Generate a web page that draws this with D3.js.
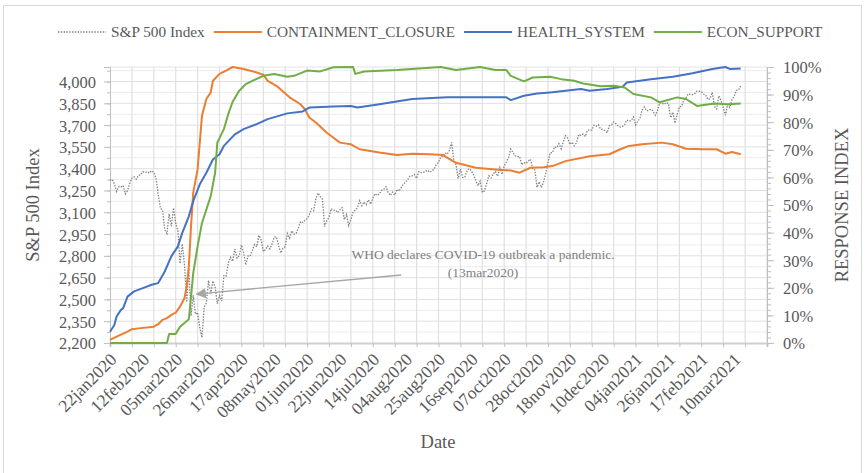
<!DOCTYPE html>
<html>
<head>
<meta charset="utf-8">
<script src="https://cdn.jsdelivr.net/npm/d3@7/dist/d3.min.js"></script>
<style>
  body { margin: 0; background: #fff; }
  text { font-family: 'Liberation Serif', 'Times New Roman', serif; }
</style>
</head>
<body>
<svg id="chart" width="867" height="473"></svg>
<script>
// x labels, one every 15 trading days (index 0 = 22jan2020)
const tickLabels = [
  '22jan2020', '12feb2020', '05mar2020', '26mar2020', '17apr2020',
  '08may2020', '01jun2020', '22jun2020', '14jul2020', '04aug2020',
  '25aug2020', '16sep2020', '07oct2020', '28oct2020', '18nov2020',
  '10dec2020', '04jan2021', '26jan2021', '17feb2021', '10mar2021',
];

// S&P 500 daily close, one value per trading day
const spClose = [
  // jan 2020
  3321, 3326, 3295, 3244, 3276, 3273, 3284, 3226,
  // feb
  3249, 3298, 3335, 3345, 3328, 3352, 3358, 3379, 3374, 3380, 3370, 3386,
  3373, 3338, 3226, 3128, 3116, 2979, 2954,
  // mar
  3090, 3003, 3130, 3024, 2972, 2747, 2882, 2741, 2481, 2711, 2386, 2529,
  2398, 2409, 2305, 2237, 2447, 2476, 2630, 2541, 2627, 2585,
  // apr
  2471, 2527, 2489, 2664, 2660, 2750, 2790, 2762, 2846, 2784, 2800, 2875,
  2823, 2737, 2799, 2798, 2837, 2878, 2863, 2940, 2912,
  // may
  2830, 2843, 2868, 2848, 2881, 2930, 2930, 2870, 2820, 2852, 2864, 2954,
  2922, 2972, 2949, 2955, 2992, 3036, 3030, 3044,
  // jun
  3056, 3081, 3123, 3112, 3194, 3232, 3207, 3190, 3002, 3041, 3067, 3125,
  3113, 3115, 3098, 3118, 3131, 3050, 3084, 3009, 3053, 3100,
  // jul
  3116, 3130, 3180, 3145, 3170, 3152, 3185, 3155, 3197, 3227, 3216, 3225,
  3251, 3257, 3276, 3236, 3216, 3239, 3218, 3258, 3246, 3271,
  // aug
  3295, 3306, 3327, 3349, 3351, 3360, 3333, 3380, 3373, 3373, 3382, 3389,
  3375, 3385, 3397, 3431, 3443, 3479, 3485, 3508, 3500,
  // sep
  3527, 3580, 3455, 3427, 3332, 3399, 3340, 3341, 3384, 3401, 3385, 3357,
  3320, 3282, 3315, 3237, 3247, 3298, 3351, 3336, 3363,
  // oct
  3381, 3348, 3408, 3361, 3419, 3447, 3477, 3535, 3512, 3489, 3483, 3484,
  3427, 3443, 3436, 3453, 3465, 3401, 3391, 3271, 3310, 3270,
  // nov
  3310, 3370, 3443, 3510, 3510, 3550, 3545, 3572, 3537, 3585, 3627, 3610,
  3567, 3582, 3558, 3578, 3635, 3630, 3638, 3622,
  // dec
  3662, 3669, 3666, 3699, 3692, 3702, 3673, 3668, 3663, 3647, 3695, 3702,
  3722, 3709, 3695, 3687, 3691, 3703, 3735, 3727, 3732, 3756,
  // jan 2021
  3701, 3727, 3748, 3804, 3825, 3799, 3801, 3810, 3795, 3768, 3799, 3852,
  3853, 3841, 3855, 3849, 3751, 3788, 3714,
  // feb
  3774, 3826, 3830, 3872, 3887, 3915, 3911, 3910, 3916, 3934, 3933, 3931,
  3914, 3907, 3877, 3881, 3925, 3829, 3811,
  // mar
  3901, 3870, 3820, 3768, 3842, 3821, 3875, 3898, 3939, 3943, 3969,
];

// response indices, [trading day index, percent]
const containment = [
  [0, 1.1], [3, 2.3], [8, 4.1], [10, 5], [13, 5.3], [20, 5.9], [22, 6.8],
  [24, 8.4], [26, 9], [28, 10.2], [30, 11], [32, 13.2], [34, 16.2],
  [35, 20.5], [36, 27.7], [37, 42.3], [38, 54.5], [40, 62.9], [41, 72.7],
  [42, 82.3], [44, 88.4], [46, 90.8], [47, 95], [50, 97.5], [53, 98.7],
  [56, 100], [61, 99.3], [67, 98], [70, 97.2], [72, 95], [76, 93.2],
  [82, 89], [87, 86.5], [89, 84.7], [91, 81.7], [94, 79.9], [99, 76.2],
  [101, 75], [105, 72.6], [110, 72], [114, 70.2], [123, 69], [131, 68.1],
  [138, 68.6], [146, 68.4], [152, 68.1], [158, 65.3], [167, 63.5],
  [176, 62.9], [183, 62.5], [187, 61.7], [192, 63.5], [198, 63.7],
  [202, 64.1], [208, 65.9], [219, 67.7], [228, 68.4], [233, 70.2],
  [237, 71.4], [243, 72], [252, 72.6], [257, 72], [263, 70.4], [271, 70.2],
  [277, 70.2], [281, 68.6], [284, 69.2], [288, 68.4],
];

const healthSystem = [
  [0, 4.1], [2, 6.5], [3, 9.6], [5, 12], [6, 12.6], [8, 16.8], [11, 18.7],
  [15, 19.9], [19, 21.1], [22, 21.7], [25, 25.9], [28, 31.4], [31, 35],
  [33, 39.9], [36, 45.9], [38, 51.4], [41, 57.5], [44, 61.7], [47, 66.5],
  [50, 68.4], [52, 71.4], [57, 75.6], [61, 77.5], [67, 79.3], [72, 81.1],
  [81, 83.2], [88, 83.9], [91, 85.3], [102, 85.7], [110, 85.9], [113, 85.3],
  [123, 86.5], [138, 88.4], [154, 89], [169, 89], [181, 89], [183, 88],
  [189, 89.6], [195, 90.4], [201, 90.8], [206, 91.2], [215, 92], [219, 91.4],
  [227, 92], [234, 92.8], [236, 94.4], [247, 95.6], [257, 96.5], [266, 97.7],
  [275, 99.3], [281, 100], [283, 99.3], [288, 99.5],
];

const econSupport = [
  [0, 0], [26, 0], [27, 3.3], [30, 3.3], [32, 5.9], [36, 8.6], [37, 16.8],
  [38, 25.3], [40, 35], [42, 43.5], [46, 53.2], [48, 61.7], [49, 72.6],
  [52, 77.5], [54, 82.9], [56, 87.4], [59, 91.4], [62, 93.8], [65, 95],
  [70, 96.8], [75, 97.5], [81, 96.5], [84, 96.8], [90, 98.7], [96, 98.4],
  [102, 99.9], [111, 100], [112, 97.5], [116, 98.4], [131, 98.9],
  [151, 100], [158, 98.9], [169, 100], [176, 98.9], [181, 98.9],
  [183, 96.8], [189, 94.8], [193, 96.2], [201, 96.5], [206, 95.6],
  [212, 95], [216, 94], [224, 93], [230, 93.2], [235, 92.6], [239, 90.2],
  [247, 89], [251, 87.2], [259, 89], [263, 88.4], [268, 85.9], [276, 86.8],
  [282, 86.5], [288, 86.8],
];

const legendItems = [
  { name: 'S&P 500 Index', color: '#7f7f7f', dotted: true },
  { name: 'CONTAINMENT_CLOSURE', color: '#ed7d31' },
  { name: 'HEALTH_SYSTEM', color: '#4472c4' },
  { name: 'ECON_SUPPORT', color: '#70ad47' },
];

const w = 867;
const h = 473;
const plot = { left: 110, right: 767, top: 67, bottom: 343 };
const textColor = '#595959';

const svg = d3.select('#chart').attr('width', w).attr('height', h);

// chart border
svg.append('rect')
  .attr('x', 3.5).attr('y', 5.5)
  .attr('width', 858).attr('height', 480)
  .attr('fill', 'none').attr('stroke', '#d9d9d9');

const x = d3.scaleLinear().domain([0, 300]).range([plot.left, plot.right]);
const yLeft = d3.scaleLinear().domain([2200, 4100]).range([plot.bottom, plot.top]);
const yRight = d3.scaleLinear().domain([0, 1]).range([plot.bottom, plot.top]);

////////////////////////
/////// GRID ///////////
////////////////////////

const grid = svg.append('g');

grid.selectAll('line.h')
  .data(d3.range(2275, 4100, 75))
  .enter()
  .append('line')
  .attr('x1', plot.left).attr('x2', plot.right)
  .attr('y1', (d) => yLeft(d)).attr('y2', (d) => yLeft(d))
  .attr('stroke', (d) => ((d - 2200) % 150 === 0 ? '#e0e0e0' : '#ececec'))
  .attr('stroke-width', 1);

grid.append('line')
  .attr('x1', plot.left).attr('x2', plot.right)
  .attr('y1', plot.top).attr('y2', plot.top)
  .attr('stroke', '#e3e3e3');

grid.selectAll('line.v')
  .data(d3.range(10, 301, 10))
  .enter()
  .append('line')
  .attr('x1', (d) => x(d)).attr('x2', (d) => x(d))
  .attr('y1', plot.top).attr('y2', plot.bottom)
  .attr('stroke', '#e0e0e0')
  .attr('stroke-width', 1.2);

////////////////////////
/////// AXES ///////////
////////////////////////

function styleAxis(g) {
  g.select('.domain').attr('stroke', '#bfbfbf');
  g.selectAll('.tick line').attr('stroke', '#bfbfbf');
  g.selectAll('.tick text')
    .attr('fill', textColor)
    .style('font-size', '16.5px')
    .style('font-family', "'Liberation Serif', serif");
}

// left
svg.append('g')
  .attr('transform', `translate(${plot.left},0)`)
  .call(d3.axisLeft(yLeft).tickValues(d3.range(2275, 4100, 75)).tickSize(3).tickFormat(''))
  .call(styleAxis);
svg.append('g')
  .attr('transform', `translate(${plot.left},0)`)
  .call(
    d3.axisLeft(yLeft)
      .tickValues(d3.range(2200, 4001, 150))
      .tickSize(6)
      .tickPadding(8)
      .tickFormat(d3.format(','))
  )
  .call(styleAxis)
  .call((g) => g.selectAll('.tick text').attr('dy', '0.36em'));

// right
svg.append('g')
  .attr('transform', `translate(${plot.right},0)`)
  .call(d3.axisRight(yRight).tickValues(d3.range(0, 1.001, 0.02)).tickSize(4).tickFormat(''))
  .call(styleAxis);
svg.append('g')
  .attr('transform', `translate(${plot.right},0)`)
  .call(
    d3.axisRight(yRight)
      .tickValues(d3.range(0, 11).map((d) => d / 10))
      .tickSize(7)
      .tickPadding(9)
      .tickFormat(d3.format('.0%'))
  )
  .call(styleAxis)
  .call((g) => g.selectAll('.tick text').attr('dy', '0.36em'));

// bottom
const xAxis = svg.append('g')
  .attr('transform', `translate(0,${plot.bottom})`)
  .call(d3.axisBottom(x).tickValues(d3.range(0, 301, 10)).tickSize(4).tickFormat(''))
  .call(styleAxis);
xAxis.select('.domain').attr('stroke', '#d0d0d0').attr('stroke-width', 2);

svg.append('g')
  .selectAll('text')
  .data(tickLabels)
  .enter()
  .append('text')
  .attr('transform', (d, i) => `translate(${x(i * 15) - 1},${plot.bottom + 9}) rotate(-45)`)
  .attr('text-anchor', 'end')
  .attr('dy', '0.7em')
  .attr('fill', textColor)
  .style('font-size', '17.5px')
  .text((d) => d);

// titles
svg.append('text')
  .attr('transform', `translate(39,205) rotate(-90)`)
  .attr('text-anchor', 'middle')
  .attr('fill', textColor)
  .style('font-size', '18.5px')
  .text('S&P 500 Index');

svg.append('text')
  .attr('transform', `translate(848,205) rotate(-90)`)
  .attr('text-anchor', 'middle')
  .attr('fill', textColor)
  .style('font-size', '18.5px')
  .text('RESPONSE INDEX');

svg.append('text')
  .attr('x', 438).attr('y', 448)
  .attr('text-anchor', 'middle')
  .attr('fill', textColor)
  .style('font-size', '18.5px')
  .text('Date');

////////////////////////
/////// SERIES /////////
////////////////////////

const spLine = d3.line()
  .x((d, i) => x(i))
  .y((d) => yLeft(d));

svg.append('path')
  .datum(spClose)
  .attr('d', spLine)
  .attr('fill', 'none')
  .attr('stroke', '#7f7f7f')
  .attr('stroke-width', 1.3)
  .attr('stroke-dasharray', '1.4 1.4');

const pctLine = d3.line()
  .x((d) => x(d[0]))
  .y((d) => yRight(d[1] / 100));

[
  [containment, '#ed7d31'],
  [healthSystem, '#4472c4'],
  [econSupport, '#70ad47'],
].forEach(([data, color]) => {
  svg.append('path')
    .datum(data)
    .attr('d', pctLine)
    .attr('fill', 'none')
    .attr('stroke', color)
    .attr('stroke-width', 2)
    .attr('stroke-linejoin', 'round');
});

////////////////////////
/////// ANNOTATION /////
////////////////////////

svg.append('defs')
  .append('marker')
  .attr('id', 'arrow')
  .attr('viewBox', '0 0 10 10')
  .attr('refX', 9).attr('refY', 5)
  .attr('markerWidth', 8).attr('markerHeight', 8)
  .attr('orient', 'auto-start-reverse')
  .append('path')
  .attr('d', 'M0,0 L10,5 L0,10 z')
  .attr('fill', '#a6a6a6');

svg.append('line')
  .attr('x1', x(133)).attr('y1', yLeft(2668))
  .attr('x2', x(39.5)).attr('y2', yLeft(2537))
  .attr('stroke', '#a6a6a6')
  .attr('stroke-width', 1.3)
  .attr('marker-end', 'url(#arrow)');

const note = svg.append('text')
  .attr('text-anchor', 'middle')
  .attr('fill', '#808080')
  .style('font-size', '13.5px');
note.append('tspan').attr('x', 483).attr('y', 259).text('WHO declares COVID-19 outbreak a pandemic.');
note.append('tspan').attr('x', 483).attr('y', 277).text('(13mar2020)');

////////////////////////
/////// LEGEND /////////
////////////////////////

const legend = svg.append('g').attr('transform', 'translate(58,32)');
let lx = 0;
legendItems.forEach((item) => {
  legend.append('line')
    .attr('x1', lx).attr('x2', lx + 48)
    .attr('y1', 0).attr('y2', 0)
    .attr('stroke', item.color)
    .attr('stroke-width', item.dotted ? 1.3 : 2)
    .attr('stroke-dasharray', item.dotted ? '1.4 1.4' : null);
  const t = legend.append('text')
    .attr('x', lx + 53).attr('y', 0)
    .attr('dy', '0.35em')
    .attr('fill', textColor)
    .style('font-size', '15.3px')
    .text(item.name);
  lx += 53 + t.node().getComputedTextLength() + 9;
});
</script>
</body>
</html>
